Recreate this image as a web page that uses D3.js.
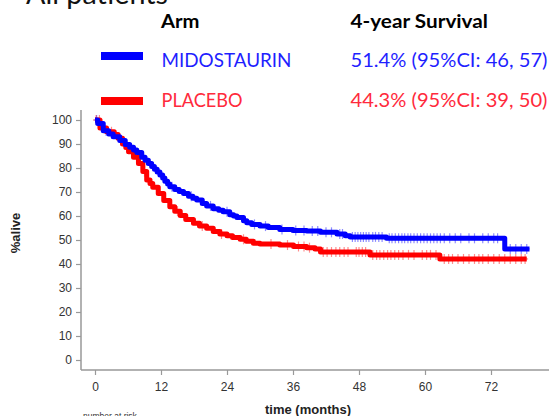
<!DOCTYPE html>
<html>
<head>
<meta charset="utf-8">
<script src="https://cdn.jsdelivr.net/npm/d3@7"></script>
<style>
  html, body { margin: 0; padding: 0; background: #fff; }
  svg { display: block; }
</style>
</head>
<body>
<svg id="chart" width="549" height="416"></svg>
<script>
// ---- data ----
const seriesNames = ["MIDOSTAURIN", "PLACEBO"];
const survivalLabels = ["51.4% (95%CI: 46, 57)", "44.3% (95%CI: 39, 50)"];
const xTicks = [0, 12, 24, 36, 48, 60, 72];
const yTicks = [0, 10, 20, 30, 40, 50, 60, 70, 80, 90, 100];

const midoTime = [0, 0.5, 1.5, 2.5, 3.3, 4.5, 5.5, 6.3, 7.0, 7.6, 8.5, 9.1, 9.7, 10.3, 10.8, 11.3, 11.8, 12.3, 12.7, 13.2, 13.6, 14.5, 15.3, 16.1, 17.0, 17.8, 18.5, 19.5, 20.3, 21.5, 22.5, 23.3, 24.5, 25.2, 25.8, 27.0, 27.6, 28.5, 30.0, 31.5, 33.6, 36.0, 38.5, 41.0, 44.0, 45.5, 46.4, 53.0, 74.5, 79.0];
const midoSurv = [100, 98.5, 95.5, 94.2, 93.0, 91.5, 89.8, 88.6, 87.5, 86.5, 84.5, 83.2, 81.9, 80.6, 79.5, 78.3, 77.1, 75.8, 74.5, 73.3, 72.2, 71.0, 70.2, 69.4, 68.2, 67.4, 66.7, 65.2, 64.2, 63.0, 62.4, 61.8, 60.5, 60.0, 59.4, 58.0, 57.2, 56.5, 55.8, 55.2, 54.4, 54.0, 53.7, 53.2, 52.5, 51.8, 51.3, 50.7, 46.3, 46.3];

const placeboTime = [0, 0.9, 2.1, 3.5, 4.2, 5.0, 5.6, 6.1, 7.0, 7.9, 8.7, 9.4, 10.0, 10.5, 11.5, 12.5, 13.6, 14.5, 15.5, 16.5, 17.9, 19.0, 20.3, 21.5, 22.7, 24.0, 25.0, 26.4, 27.5, 28.8, 30.0, 33.6, 36.1, 38.5, 40.0, 41.0, 50.0, 62.7, 78.5];
const placeboSurv = [100, 96.7, 95.1, 94.0, 92.4, 90.0, 88.5, 86.8, 84.5, 81.9, 78.5, 75.0, 73.5, 72.0, 69.4, 66.5, 63.9, 62.0, 60.2, 58.5, 57.0, 55.8, 54.9, 53.5, 52.5, 51.8, 51.0, 50.3, 49.5, 48.6, 48.3, 47.9, 47.3, 46.8, 46.3, 45.0, 43.8, 42.1, 42.1];

const midoCensor = [0.3, 1.0, 2.0, 14.0, 17.5, 21.0, 24.0, 29.0, 31.0, 34.0, 36.5, 38.0, 39.5, 40.5, 42.0, 43.0, 44.5, 45.0, 46.8, 47.3, 47.8, 48.3, 48.8, 49.3, 49.8, 50.5, 51.0, 51.6, 52.2, 53.5, 54.0, 54.6, 55.2, 55.8, 56.3, 56.9, 57.4, 58.0, 58.6, 59.2, 59.8, 60.4, 61.0, 61.6, 62.2, 62.8, 63.5, 64.5, 65.5, 66.5, 68.0, 69.0, 70.5, 71.5, 72.5, 73.2, 75.5, 76.5, 77.5, 78.5];
const placeboCensor = [0.2, 0.8, 1.5, 3.0, 9.0, 15.0, 19.5, 23.0, 27.0, 32.0, 35.0, 37.0, 38.0, 39.0, 41.5, 42.2, 43.0, 43.8, 44.5, 45.3, 46.0, 47.5, 48.0, 48.6, 49.2, 50.5, 51.2, 51.8, 52.5, 53.2, 53.8, 54.5, 55.2, 56.0, 57.0, 58.0, 59.5, 60.3, 61.0, 62.0, 63.5, 64.3, 65.0, 66.0, 67.0, 68.0, 69.0, 69.8, 70.5, 71.5, 72.5, 73.5, 74.5, 75.5, 76.5, 77.5, 78.2];

const colors = ["#0000ff", "#ff0000"];
const textColors = ["#1f1fff", "#ff2a3c"];

// ---- layout ----
const svg = d3.select("#chart");
const x = d3.scaleLinear().domain([0, 72]).range([95, 491]);
const y = d3.scaleLinear().domain([0, 100]).range([360, 120]);

// title (cut off at top)
svg.append("text")
  .attr("x", 26).attr("y", 4)
  .attr("font-family", "Lato, 'Open Sans', sans-serif")
  .attr("font-size", 28)
  .attr("fill", "#111")
  .attr("textLength", 142).attr("lengthAdjust", "spacingAndGlyphs")
  .text("All patients");

// legend
const lf = "Lato, 'Open Sans', sans-serif";
svg.append("text").attr("x", 161).attr("y", 27.5).attr("font-family", lf)
  .attr("font-size", 19).attr("font-weight", "bold").attr("fill", "#000")
  .attr("textLength", 38.5).attr("lengthAdjust", "spacingAndGlyphs").text("Arm");
svg.append("text").attr("x", 350.5).attr("y", 27.5).attr("font-family", lf)
  .attr("font-size", 19).attr("font-weight", "bold").attr("fill", "#000")
  .attr("textLength", 137.5).attr("lengthAdjust", "spacingAndGlyphs").text("4-year Survival");

const legendY = [56, 101];
const baseY = [67, 106.5];
const nameLen = [130, 81];
seriesNames.forEach((name, i) => {
  svg.append("rect").attr("x", 101).attr("y", legendY[i] - 4).attr("width", 42).attr("height", 8)
    .attr("fill", colors[i]);
  svg.append("text").attr("x", 161.5).attr("y", baseY[i]).attr("font-family", lf)
    .attr("font-size", 19).attr("fill", textColors[i])
    .attr("textLength", nameLen[i]).attr("lengthAdjust", "spacingAndGlyphs").text(name);
  svg.append("text").attr("x", 350.5).attr("y", baseY[i]).attr("font-family", lf)
    .attr("font-size", 19).attr("fill", textColors[i])
    .attr("textLength", 197).attr("lengthAdjust", "spacingAndGlyphs").text(survivalLabels[i]);
});

// axes
const axisFont = "'Liberation Sans', Arial, sans-serif";
const yAxis = svg.append("g").attr("transform", "translate(81,0)")
  .call(d3.axisLeft(y).tickValues(yTicks).tickSize(5).tickPadding(4));
yAxis.select(".domain").attr("d", "M0,110V370").attr("stroke", "#999").attr("stroke-width", 1.5);
yAxis.selectAll(".tick line").attr("stroke", "#999").attr("stroke-width", 1.2);
yAxis.selectAll(".tick text").attr("font-family", axisFont).attr("font-size", 12).attr("fill", "#333");

const xAxis = svg.append("g").attr("transform", "translate(0,370)")
  .call(d3.axisBottom(x).tickValues(xTicks).tickSize(5).tickPadding(7));
xAxis.select(".domain").attr("d", "M81,0H549").attr("stroke", "#999").attr("stroke-width", 1.5);
xAxis.selectAll(".tick line").attr("stroke", "#999").attr("stroke-width", 1.2);
xAxis.selectAll(".tick text").attr("font-family", axisFont).attr("font-size", 12).attr("fill", "#333");

svg.append("text").attr("x", 308).attr("y", 414).attr("text-anchor", "middle")
  .attr("font-family", axisFont).attr("font-size", 13).attr("font-weight", "bold").attr("fill", "#222")
  .text("time (months)");
svg.append("text").attr("transform", "translate(20,233) rotate(-90)").attr("text-anchor", "middle")
  .attr("font-family", axisFont).attr("font-size", 13).attr("font-weight", "bold").attr("fill", "#222")
  .text("%alive");
svg.append("text").attr("x", 83).attr("y", 418.5)
  .attr("font-family", axisFont).attr("font-size", 8.5).attr("fill", "#333")
  .text("number at risk");

// curves
const datasets = [
  { t: midoTime, s: midoSurv, c: midoCensor },
  { t: placeboTime, s: placeboSurv, c: placeboCensor }
];
const line = d3.line().x(d => x(d[0])).y(d => y(d[1])).curve(d3.curveStepAfter);

function survAt(ds, tm) {
  let v = ds.s[0];
  for (let k = 0; k < ds.t.length; k++) { if (ds.t[k] <= tm) v = ds.s[k]; }
  return v;
}

datasets.forEach((ds, i) => {
  const g = svg.append("g");
  g.selectAll("line.cv").data(ds.c).join("line")
    .attr("x1", d => x(d)).attr("x2", d => x(d))
    .attr("y1", d => y(survAt(ds, d)) - 5).attr("y2", d => y(survAt(ds, d)) + 5)
    .attr("stroke", colors[i]).attr("stroke-opacity", 0.45).attr("stroke-width", 1.2);
  g.selectAll("line.ch").data(ds.c).join("line")
    .attr("x1", d => x(d) - 3).attr("x2", d => x(d) + 3)
    .attr("y1", d => y(survAt(ds, d))).attr("y2", d => y(survAt(ds, d)))
    .attr("stroke", colors[i]).attr("stroke-opacity", 0.45).attr("stroke-width", 1.2);
});
[1, 0].forEach(i => {
  const ds = datasets[i];
  svg.append("path")
    .datum(ds.t.map((t, k) => [t, ds.s[k]]))
    .attr("d", line)
    .attr("fill", "none")
    .attr("stroke", colors[i])
    .attr("stroke-width", 5)
    .attr("stroke-linejoin", "round");
});
</script>
</body>
</html>
